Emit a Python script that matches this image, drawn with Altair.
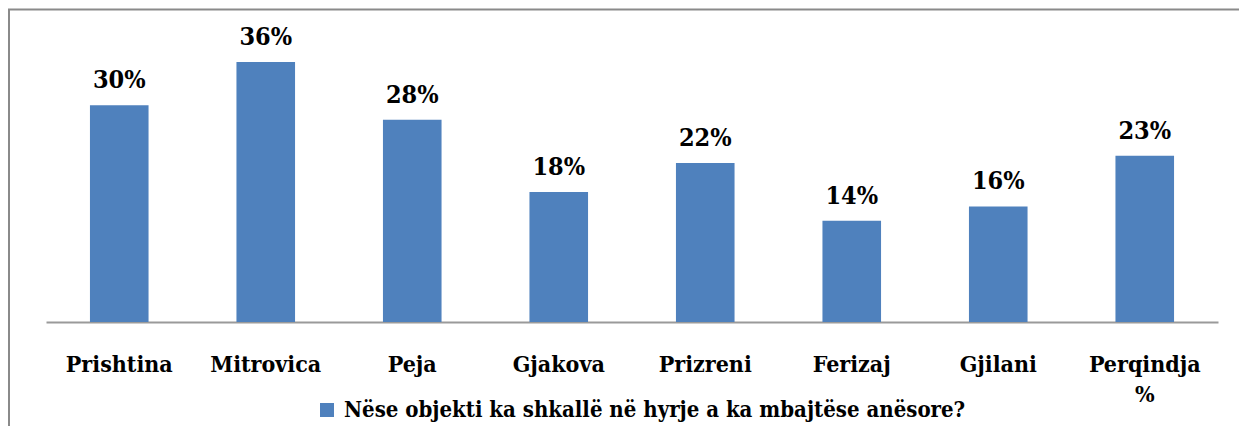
import altair as alt
import pandas as pd

categories = ["Prishtina", "Mitrovica", "Peja", "Gjakova", "Prizreni", "Ferizaj", "Gjilani", "Perqindja %"]
values = [0.30, 0.36, 0.28, 0.18, 0.22, 0.14, 0.16, 0.23]
series_name = "Nëse objekti ka shkallë në hyrje a ka mbajtëse anësore?"

df = pd.DataFrame({"cat": categories, "val": values, "series": [series_name] * len(categories)})

FONT = "DejaVu Serif Condensed"
BLUE = "#4F81BD"

x = alt.X("cat:N", sort=categories, title=None,
          scale=alt.Scale(paddingInner=0.6, paddingOuter=0.3),
          axis=alt.Axis(labelAngle=0, ticks=False, tickSize=0, labelPadding=31,
                        labelFont=FONT, labelFontSize=23, labelFontWeight="bold",
                        labelColor="black", labelBaseline="top",
                        labelExpr="split(datum.label, ' ')", labelLineHeight=30,
                        domainColor="#9a9a9a", domainWidth=2, grid=False))
y = alt.Y("val:Q", scale=alt.Scale(domain=[0, 0.4]), axis=None)

bars = alt.Chart(df).mark_bar().encode(
    x=x, y=y,
    color=alt.Color("series:N", scale=alt.Scale(range=[BLUE]),
                    legend=alt.Legend(title=None, orient="none", legendX=270, legendY=366,
                                      symbolType="square", symbolSize=196, symbolStrokeWidth=0,
                                      symbolOffset=0, labelOffset=6, padding=0,
                                      labelFont=FONT, labelFontSize=22, labelFontWeight="bold",
                                      labelColor="black", labelLimit=900))
)

labels = alt.Chart(df).mark_text(font=FONT, fontSize=25, fontWeight="bold", color="black",
                                 baseline="alphabetic", dy=-17).encode(
    x=alt.X("cat:N", sort=categories), y="val:Q",
    text=alt.Text("val:Q", format=".0%")
)

frame_df = pd.DataFrame({"a": [0]})
left_line = alt.Chart(frame_df).mark_rule(color="#8a8a8a", strokeWidth=2).encode(
    x=alt.value(-37), y=alt.value(-24), y2=alt.value(420))
top_line = alt.Chart(frame_df).mark_rule(color="#8a8a8a", strokeWidth=2).encode(
    x=alt.value(-38), x2=alt.value(1220), y=alt.value(-23.5))

chart = alt.layer(bars, labels, left_line, top_line).properties(
    width=1172, height=289,
    autosize=alt.AutoSizeParams(type="none"),
    padding={"left": 38, "top": 25, "right": 21, "bottom": 104},
).configure_view(stroke=None)

chart.save("out.html", embed_options={"renderer": "svg", "actions": False})
